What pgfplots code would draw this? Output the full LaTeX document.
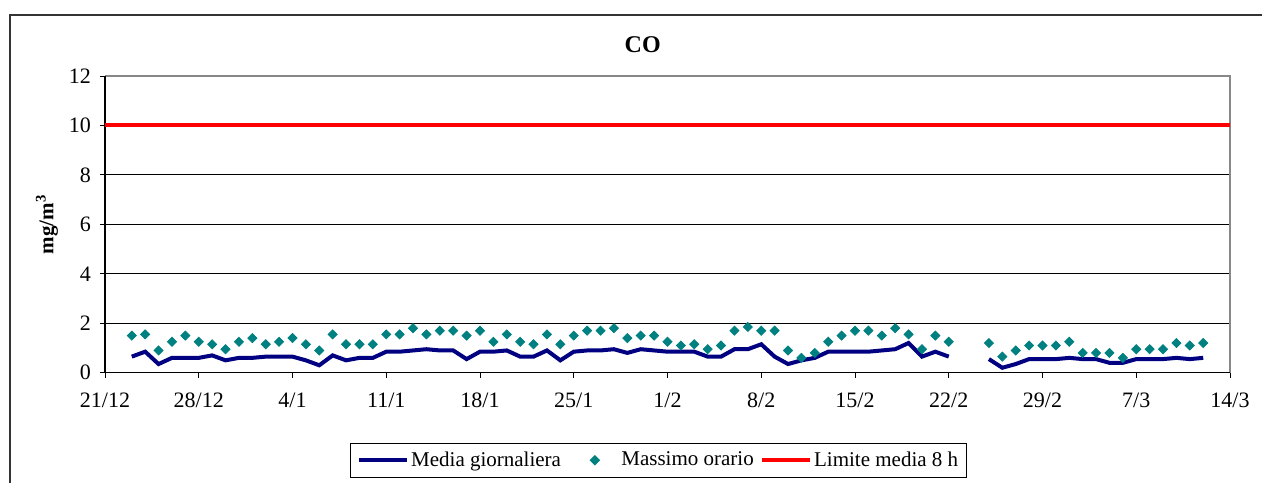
\documentclass[border=0pt]{standalone}
\usepackage{fontspec}
\setmainfont{Liberation Serif}
\usepackage{pgfplots}
\pgfplotsset{compat=1.18}
\definecolor{navyLine}{HTML}{000080}
\definecolor{tealMark}{HTML}{008080}
\definecolor{frameGray}{HTML}{888888}
\pgfplotsset{
    longline legend/.style={
        legend image code/.code={\draw[##1] (0cm,0cm) -- (0.85cm,0cm);}},
    mark legend/.style={
        legend image code/.code={\path[draw=none] (0cm,0cm) -- (0.92cm,0cm);
            \draw[##1] plot coordinates {(0.49cm,0cm)};}},
}

\begin{document}
\begin{tikzpicture}
\path[use as bounding box] (0pt,0pt) rectangle (631pt,241pt);
% outer chart frame (runs off the right and bottom edges)
\draw[line width=1pt, black!80] (5pt,-10pt) -- (5pt,233.5pt) -- (650pt,233.5pt);

\begin{axis}[
    at={(52.5pt,54.65pt)}, anchor=south west,
    scale only axis,
    width=562.5pt, height=148.35pt,
    xmin=0, xmax=84,
    ymin=0, ymax=12,
    xtick={0,7,...,84},
    xticklabels={21/12,28/12,4/1,11/1,18/1,25/1,1/2,8/2,15/2,22/2,29/2,7/3,14/3},
    ytick={0,2,...,12},
    xtick pos=bottom, ytick pos=left,
    tick align=outside,
    major tick length=2.5pt,
    tick style={black, line width=0.5pt},
    ymajorgrids,
    grid style={black, line width=0.5pt},
    axis line style={draw=none},
    /pgf/number format/assume math mode=true,
    tick label style={font=\fontsize{11}{13}\selectfont},
    xticklabel style={yshift=-4pt},
    yticklabel style={xshift=-1pt},
    title={CO},
    title style={font=\bfseries\fontsize{12}{14}\selectfont, at={(0.478,1.064)}, anchor=center},
    ylabel={mg/m\textsuperscript{3}},
    ylabel style={font=\bfseries\fontsize{10.5}{12}\selectfont, at={(-0.0516,0.5)}, anchor=center},
    unbounded coords=jump,
    clip=false,
    legend columns=3,
    legend style={
        at={(0.492,-0.237)}, anchor=north,
        draw=black, line width=0.5pt, fill=white,
        font=\fontsize{10.5}{12.5}\selectfont,
        inner xsep=3pt, inner ysep=2pt,
        nodes={inner xsep=1pt},
        /tikz/every even column/.append style={column sep=2pt},
    },
]
% plot area border: grey top/right, black left/bottom
\draw[frameGray, line width=1pt] (rel axis cs:0,1) -- (rel axis cs:1,1) -- (rel axis cs:1,0);
\draw[black, line width=0.75pt] (rel axis cs:0,1) -- (rel axis cs:0,0) -- (rel axis cs:1,0);

\addplot[navyLine, line width=2pt, longline legend]
coordinates {
(2,0.65) (3,0.85) (4,0.35) (5,0.6) (6,0.6) (7,0.6) (8,0.7) (9,0.5) (10,0.6)
(11,0.6) (12,0.65) (13,0.65) (14,0.65) (15,0.5) (16,0.3) (17,0.7) (18,0.5)
(19,0.6) (20,0.6) (21,0.85) (22,0.85) (23,0.9) (24,0.95) (25,0.9) (26,0.9)
(27,0.55) (28,0.85) (29,0.85) (30,0.9) (31,0.65) (32,0.65) (33,0.9) (34,0.5)
(35,0.85) (36,0.9) (37,0.9) (38,0.95) (39,0.8) (40,0.95) (41,0.9) (42,0.85)
(43,0.85) (44,0.85) (45,0.65) (46,0.65) (47,0.95) (48,0.95) (49,1.15) (50,0.65)
(51,0.35) (52,0.5) (53,0.6) (54,0.85) (55,0.85) (56,0.85) (57,0.85) (58,0.9)
(59,0.95) (60,1.2) (61,0.65) (62,0.85) (63,0.65)
(64,nan)
(66,0.55) (67,0.2) (68,0.35) (69,0.55) (70,0.55) (71,0.55) (72,0.6) (73,0.55)
(74,0.55) (75,0.4) (76,0.4) (77,0.55) (78,0.55) (79,0.55) (80,0.6) (81,0.55)
(82,0.6)
};
\addlegendentry{Media giornaliera}

\addplot[only marks, mark=square*, mark size=1.6pt,
    mark options={rotate=45, fill=tealMark, draw=tealMark}, mark legend]
coordinates {
(2,1.5) (3,1.55) (4,0.9) (5,1.25) (6,1.5) (7,1.25) (8,1.15) (9,0.95) (10,1.25)
(11,1.4) (12,1.15) (13,1.25) (14,1.4) (15,1.15) (16,0.9) (17,1.55) (18,1.15)
(19,1.15) (20,1.15) (21,1.55) (22,1.55) (23,1.8) (24,1.55) (25,1.7) (26,1.7)
(27,1.5) (28,1.7) (29,1.25) (30,1.55) (31,1.25) (32,1.15) (33,1.55) (34,1.15)
(35,1.5) (36,1.7) (37,1.7) (38,1.8) (39,1.4) (40,1.5) (41,1.5) (42,1.25)
(43,1.1) (44,1.15) (45,0.95) (46,1.1) (47,1.7) (48,1.85) (49,1.7) (50,1.7)
(51,0.9) (52,0.6) (53,0.8) (54,1.25) (55,1.5) (56,1.7) (57,1.7) (58,1.5)
(59,1.8) (60,1.55) (61,0.95) (62,1.5) (63,1.25)
(66,1.2) (67,0.65) (68,0.9) (69,1.1) (70,1.1) (71,1.1) (72,1.25) (73,0.8)
(74,0.8) (75,0.8) (76,0.6) (77,0.95) (78,0.95) (79,0.95) (80,1.2) (81,1.1)
(82,1.2)
};
\addlegendentry{Massimo orario}

\addplot[red, line width=2pt, longline legend]
coordinates {(0,10) (84,10)};
\addlegendentry{Limite media 8 h}
\end{axis}
\end{tikzpicture}
\end{document}
